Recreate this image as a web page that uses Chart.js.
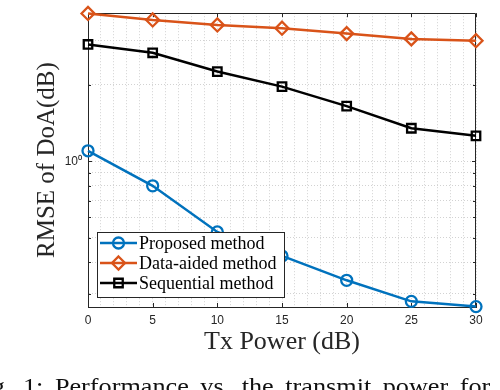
<!DOCTYPE html>
<html>
<head>
<meta charset="utf-8">
<script src="https://cdn.jsdelivr.net/npm/chart.js"></script>
<style>
  body { margin: 0; width: 500px; height: 390px; overflow: hidden; background: #fff; }
</style>
</head>
<body>
<canvas id="myChart" width="500" height="390"></canvas>
<script>
const xValues = [0, 5, 10, 15, 20, 25, 30]
const proposed = [1.10, 0.80, 0.526, 0.423, 0.339, 0.280, 0.267]
const dataAided = [3.83, 3.61, 3.45, 3.35, 3.19, 3.04, 2.99]
const sequential = [2.89, 2.68, 2.26, 1.97, 1.65, 1.35, 1.26]
const yTicks = [0.3, 0.4, 0.5, 0.6, 0.7, 0.8, 0.9, 1, 2, 3]
const xTickLabels = [0, 5, 10, 15, 20, 25, 30]
const names = ['Proposed method', 'Data-aided method', 'Sequential method']
const captionText = 'Fig. 1: Performance vs. the transmit power for the'

const axisColor = '#262626'
const gridColor = '#d2d2d2'

const series = (label, values, color, style, radius) => ({
    label,
    data: values.map((v, i) => ({ x: xValues[i], y: v })),
    borderColor: color,
    borderWidth: 2.5,
    pointStyle: style,
    pointRadius: radius,
    pointHoverRadius: radius,
    pointBorderWidth: 2.3,
    pointBorderColor: color,
    pointBackgroundColor: 'rgba(0,0,0,0)',
    tension: 0,
    clip: false,
})

// box on top/right plus inward tick marks, like matlab
const frame = {
    id: 'frame',
    beforeDatasetsDraw(chart) {
        const { ctx, chartArea: a, scales: { x, y } } = chart
        ctx.save()
        ctx.strokeStyle = axisColor
        ctx.lineWidth = 1
        ctx.beginPath()
        const t = Math.round(a.top) + 0.5
        const r = Math.round(a.right) - 0.5
        ctx.moveTo(a.left, t)
        ctx.lineTo(r, t)
        ctx.lineTo(r, a.bottom)
        xTickLabels.forEach(v => {
            const px = Math.round(x.getPixelForValue(v)) + 0.5
            ctx.moveTo(px, a.bottom)
            ctx.lineTo(px, a.bottom - 4)
            ctx.moveTo(px, a.top)
            ctx.lineTo(px, a.top + 4)
        })
        yTicks.forEach(v => {
            const py = Math.round(y.getPixelForValue(v)) + 0.5
            const len = v === 1 ? 4 : 3
            ctx.moveTo(a.left, py)
            ctx.lineTo(a.left + len, py)
            ctx.moveTo(a.right, py)
            ctx.lineTo(a.right - len, py)
        })
        ctx.stroke()
        ctx.restore()
    },
}

function marker(ctx, style, x, y, r) {
    ctx.beginPath()
    if (style === 'circle') {
        ctx.arc(x, y, r, 0, Math.PI * 2)
    } else if (style === 'rectRot') {
        ctx.moveTo(x, y - r)
        ctx.lineTo(x + r, y)
        ctx.lineTo(x, y + r)
        ctx.lineTo(x - r, y)
        ctx.closePath()
    } else {
        const s = r * Math.SQRT1_2
        ctx.rect(x - s, y - s, 2 * s, 2 * s)
    }
    ctx.stroke()
}

// legend box inside the plot, lower left
const insideLegend = {
    id: 'insideLegend',
    afterDatasetsDraw(chart) {
        const { ctx } = chart
        const box = { x: 97.5, y: 232.5, w: 187, h: 65 }
        ctx.save()
        ctx.fillStyle = '#fff'
        ctx.fillRect(box.x, box.y, box.w, box.h)
        ctx.strokeStyle = axisColor
        ctx.lineWidth = 1
        ctx.strokeRect(box.x, box.y, box.w, box.h)
        ctx.font = '18px "Liberation Serif", serif'
        ctx.textBaseline = 'middle'
        chart.data.datasets.forEach((ds, i) => {
            const cy = 243 + i * 20
            ctx.strokeStyle = ds.borderColor
            ctx.lineWidth = 2.5
            ctx.beginPath()
            ctx.moveTo(100, cy)
            ctx.lineTo(137, cy)
            ctx.stroke()
            ctx.lineWidth = 2.3
            marker(ctx, ds.pointStyle, 118.5, cy, ds.pointRadius)
            ctx.fillStyle = '#000'
            ctx.fillText(ds.label, 139, cy + 1)
        })
        ctx.restore()
    },
}

// the paper's figure caption, cut off by the bottom edge
const caption = {
    id: 'caption',
    afterDraw(chart) {
        const { ctx } = chart
        const sx = 1.093
        ctx.save()
        ctx.font = '24px "Liberation Serif", serif'
        ctx.wordSpacing = '4.5px'
        ctx.fillStyle = '#111'
        ctx.textBaseline = 'alphabetic'
        const lead = ctx.measureText('Fig. ').width * sx
        ctx.translate(23 - lead, 393.5)
        ctx.scale(sx, 1)
        ctx.fillText(captionText, 0, 0)
        ctx.restore()
    },
}

new Chart(document.getElementById('myChart'), {
    type: 'line',
    data: {
        datasets: [
            series(names[0], proposed, '#0072BD', 'circle', 5.5),
            series(names[1], dataAided, '#D95319', 'rectRot', 6.5),
            series(names[2], sequential, '#000000', 'rect', 6),
        ],
    },
    options: {
        responsive: false,
        animation: false,
        layout: { padding: { left: 0, top: 10, right: 24, bottom: 30 } },
        plugins: { legend: { display: false }, tooltip: { enabled: false } },
        scales: {
            x: {
                type: 'linear',
                min: 0,
                max: 30,
                afterFit: s => { s.height = 53 },
                ticks: {
                    stepSize: 1,
                    autoSkip: false,
                    maxRotation: 0,
                    padding: 6,
                    color: axisColor,
                    font: { family: '"Liberation Sans", Arial, sans-serif', size: 12 },
                    callback: v => xTickLabels.includes(v) ? String(v) : '',
                },
                grid: { color: gridColor, drawTicks: false },
                border: { color: axisColor, width: 1, dash: [1, 2] },
                title: {
                    display: true,
                    text: 'Tx Power (dB)',
                    color: axisColor,
                    padding: { top: 0, bottom: 2 },
                    font: { family: '"Liberation Serif", serif', size: 26, weight: 'normal' },
                },
            },
            y: {
                type: 'logarithmic',
                min: 0.266,
                max: 3.84,
                afterFit: s => { s.width = 88 },
                afterBuildTicks: s => { s.ticks = yTicks.map(value => ({ value })) },
                ticks: {
                    padding: 6,
                    color: axisColor,
                    font: { family: '"Liberation Sans", Arial, sans-serif', size: 12 },
                    callback: v => v === 1 ? '10\u2070' : '',
                },
                grid: { color: gridColor, drawTicks: false },
                border: { color: axisColor, width: 1, dash: [1, 2] },
                title: {
                    display: true,
                    text: 'RMSE of DoA(dB)',
                    color: axisColor,
                    padding: { top: 32, bottom: 0 },
                    font: { family: '"Liberation Serif", serif', size: 25, weight: 'normal' },
                },
            },
        },
    },
    plugins: [frame, insideLegend, caption],
})
</script>
</body>
</html>
